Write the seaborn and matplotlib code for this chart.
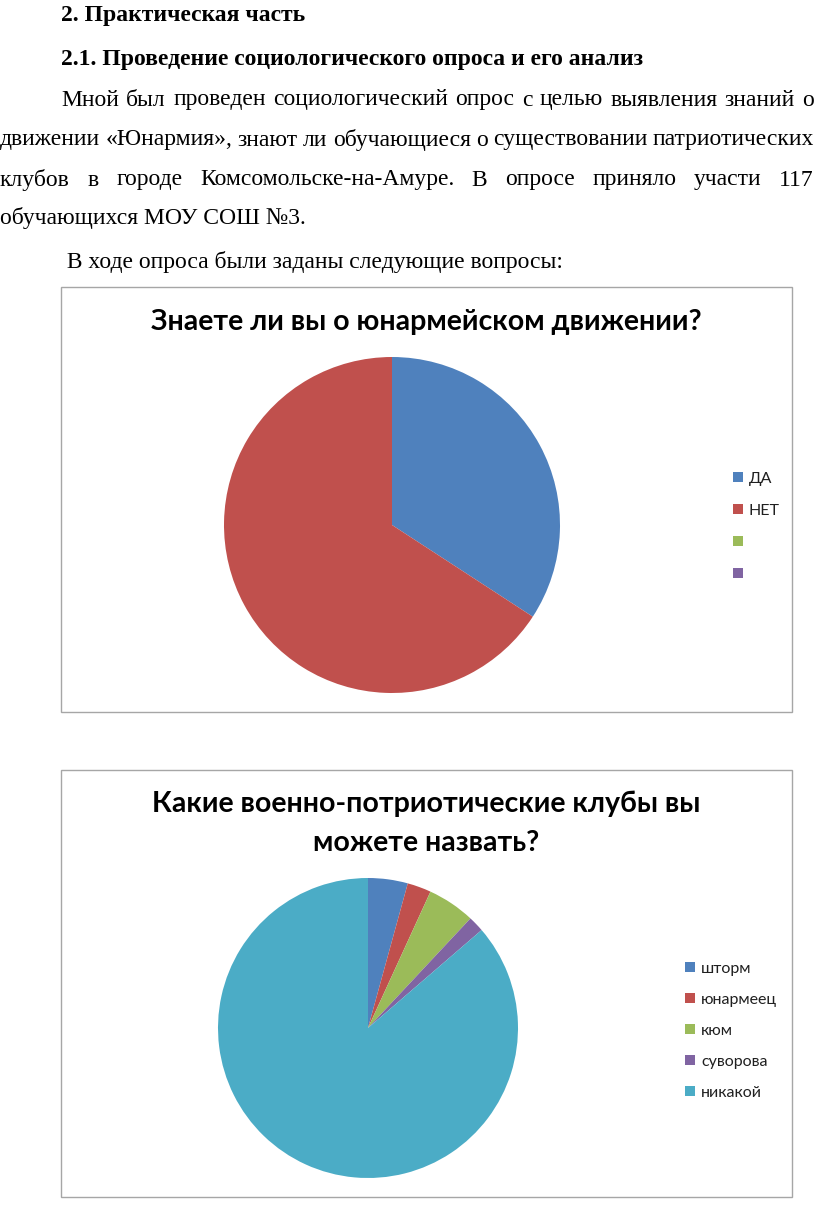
"""
Страница отчёта: текст и две круговые диаграммы по опросу 117 обучающихся.
"""

import matplotlib
matplotlib.use("Agg")
import matplotlib.pyplot as plt
from matplotlib.patches import Rectangle, Patch
import seaborn as sns

W, H = 816, 1215

# ---- данные ----
Q1_TITLE = "Знаете ли вы о юнармейском движении?"
Q1_LABELS = ["ДА", "НЕТ", "", ""]
Q1_VALUES = [40, 77, 0, 0]

Q2_TITLE = "Какие военно-потриотические клубы вы\nможете назвать?"
Q2_LABELS = ["шторм", "юнармеец", "кюм", "суворова", "никакой"]
Q2_VALUES = [5, 3, 6, 2, 101]

HEADINGS = ["2. Практическая часть",
            "2.1. Проведение социологического опроса и его анализ"]
PARAGRAPH = [
    ("Мной был проведен социологический опрос с целью выявления знаний о", True),
    ("движении «Юнармия», знают ли обучающиеся о существовании патриотических", True),
    ("клубов в городе Комсомольске-на-Амуре. В опросе приняло участи 117", True),
    ("обучающихся МОУ СОШ №3.", False),
]
INTRO = " В ходе опроса были заданы следующие вопросы:"

PALETTE = sns.color_palette(["#4F81BD", "#C0504D", "#9BBB59", "#8064A2", "#4BACC6"])

sns.set_theme(style="white")
plt.rcParams["font.family"] = ["Liberation Serif", "DejaVu Sans"]

fig = plt.figure(figsize=(W / 100, H / 100), dpi=100)
renderer = fig.canvas.get_renderer()


def fx(x):
    return x / W


def fy(y):
    return 1 - y / H


def put_line(text, x0, x1, y, justify, **kw):
    """Draw one line of body text, optionally justified between x0 and x1."""
    if not justify:
        fig.text(fx(x0), fy(y), text, va="center", ha="left", **kw)
        return
    words = text.split(" ")
    objs = [fig.text(0, 0, w, va="center", ha="left", **kw) for w in words]
    widths = [o.get_window_extent(renderer).width for o in objs]
    gap = (x1 - x0 - sum(widths)) / (len(words) - 1)
    x = x0
    for o, w in zip(objs, widths):
        o.set_position((fx(x), fy(y)))
        x += w + gap


BODY = dict(fontsize=17, color="black")
put_line(HEADINGS[0], 61, 814, 16, False, fontweight="bold", **BODY)
put_line(HEADINGS[1], 61, 814, 59, False, fontweight="bold", **BODY)
for (line, just), y, x0 in zip(PARAGRAPH, [100, 140, 180, 218], [61, 0, 0, 0]):
    put_line(line, x0, 814, y, just, **BODY)
put_line(INTRO, 61, 814, 262, False, **BODY)


def chart_frame(top, bottom):
    fig.patches.append(Rectangle((fx(61), fy(bottom)), fx(792) - fx(61), fy(top) - fy(bottom),
                                 transform=fig.transFigure, fill=False,
                                 edgecolor="#a6a6a6", linewidth=1.0))


def pie_chart(values, labels, cx, cy, r, title, title_y, legend_x, legend_y, legend_gap):
    ax = fig.add_axes([fx(cx - r), fy(cy + r), 2 * r / W, 2 * r / H])
    ax.pie(values, colors=PALETTE[:len(values)], startangle=90, counterclock=False,
           wedgeprops=dict(linewidth=0))
    ax.set_xlim(-1, 1)
    ax.set_ylim(-1, 1)
    ax.set_axis_off()
    fig.text(fx(426), fy(title_y), title, ha="center", va="center", fontsize=20.5,
             fontweight="bold", family=["Lato", "DejaVu Sans"], linespacing=1.6,
             color="black")
    handles = [Patch(facecolor=PALETTE[i], edgecolor="none", label=lab)
               for i, lab in enumerate(labels)]
    fig.legend(handles=handles, loc="upper left",
               bbox_to_anchor=(fx(legend_x), fy(legend_y)), frameon=False,
               prop=dict(family=["Lato", "DejaVu Sans"], size=11.5),
               labelcolor="#202020",
               handlelength=0.6, handleheight=0.6, handletextpad=0.4,
               labelspacing=legend_gap, borderpad=0, borderaxespad=0)


chart_frame(287, 712)
pie_chart(Q1_VALUES, Q1_LABELS, 392, 525, 168, Q1_TITLE, 322, 733, 472, 1.12)

chart_frame(770, 1197)
pie_chart(Q2_VALUES, Q2_LABELS, 368, 1028, 150, Q2_TITLE, 823, 685, 962, 1.06)

fig.savefig("out.png", dpi=100)
